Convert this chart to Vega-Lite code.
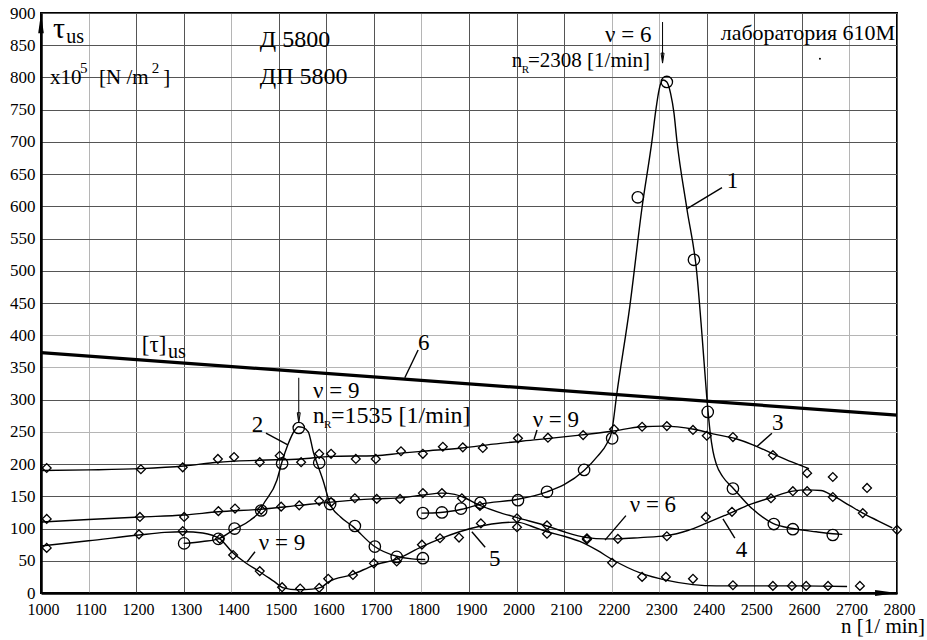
{
  "$schema": "https://vega.github.io/schema/vega-lite/v6.json",
  "width": 856,
  "height": 580,
  "autosize": "none",
  "padding": {"left": 41, "top": 13, "right": 30, "bottom": 47},
  "background": "white",
  "config": {
    "view": {"stroke": "black", "strokeWidth": 2},
    "font": "Liberation Serif",
    "text": {"font": "Liberation Serif", "color": "black", "align": "left", "baseline": "alphabetic"}
  },
  "datasets": {
    "lines": [
      {"curve": "1", "n": 1800, "tau": 124}, {"curve": "1", "n": 1840, "tau": 125}, {"curve": "1", "n": 1885, "tau": 130}, {"curve": "1", "n": 1925, "tau": 138},
      {"curve": "1", "n": 2000, "tau": 145}, {"curve": "1", "n": 2064, "tau": 157}, {"curve": "1", "n": 2100, "tau": 168}, {"curve": "1", "n": 2142, "tau": 190},
      {"curve": "1", "n": 2170, "tau": 212}, {"curve": "1", "n": 2190, "tau": 232}, {"curve": "1", "n": 2200, "tau": 250}, {"curve": "1", "n": 2211, "tau": 310},
      {"curve": "1", "n": 2238, "tau": 444}, {"curve": "1", "n": 2264, "tau": 599}, {"curve": "1", "n": 2285, "tau": 703}, {"curve": "1", "n": 2293, "tau": 750},
      {"curve": "1", "n": 2300, "tau": 782}, {"curve": "1", "n": 2308, "tau": 796}, {"curve": "1", "n": 2316, "tau": 793}, {"curve": "1", "n": 2324, "tau": 775},
      {"curve": "1", "n": 2331, "tau": 745}, {"curve": "1", "n": 2337, "tau": 703}, {"curve": "1", "n": 2358, "tau": 597}, {"curve": "1", "n": 2379, "tau": 497},
      {"curve": "1", "n": 2390, "tau": 400}, {"curve": "1", "n": 2400, "tau": 304}, {"curve": "1", "n": 2407, "tau": 250}, {"curve": "1", "n": 2413, "tau": 220},
      {"curve": "1", "n": 2420, "tau": 200}, {"curve": "1", "n": 2434, "tau": 180}, {"curve": "1", "n": 2455, "tau": 163}, {"curve": "1", "n": 2491, "tau": 134},
      {"curve": "1", "n": 2539, "tau": 108}, {"curve": "1", "n": 2581, "tau": 100}, {"curve": "1", "n": 2630, "tau": 95}, {"curve": "1", "n": 2665, "tau": 92},
      {"curve": "1", "n": 2685, "tau": 91},
      {"curve": "2", "n": 1300, "tau": 77}, {"curve": "2", "n": 1340, "tau": 80}, {"curve": "2", "n": 1373, "tau": 84}, {"curve": "2", "n": 1407, "tau": 99},
      {"curve": "2", "n": 1440, "tau": 113}, {"curve": "2", "n": 1460, "tau": 127}, {"curve": "2", "n": 1467, "tau": 137}, {"curve": "2", "n": 1496, "tau": 175},
      {"curve": "2", "n": 1507, "tau": 204}, {"curve": "2", "n": 1519, "tau": 230}, {"curve": "2", "n": 1534, "tau": 253}, {"curve": "2", "n": 1541, "tau": 258},
      {"curve": "2", "n": 1550, "tau": 257}, {"curve": "2", "n": 1562, "tau": 250}, {"curve": "2", "n": 1573, "tau": 218}, {"curve": "2", "n": 1583, "tau": 196},
      {"curve": "2", "n": 1593, "tau": 175}, {"curve": "2", "n": 1608, "tau": 138}, {"curve": "2", "n": 1630, "tau": 118}, {"curve": "2", "n": 1656, "tau": 103},
      {"curve": "2", "n": 1700, "tau": 73}, {"curve": "2", "n": 1748, "tau": 57}, {"curve": "2", "n": 1780, "tau": 53}, {"curve": "2", "n": 1808, "tau": 52},
      {"curve": "3", "n": 1000, "tau": 190}, {"curve": "3", "n": 1100, "tau": 191}, {"curve": "3", "n": 1210, "tau": 193}, {"curve": "3", "n": 1300, "tau": 197},
      {"curve": "3", "n": 1372, "tau": 203}, {"curve": "3", "n": 1460, "tau": 206}, {"curve": "3", "n": 1547, "tau": 208}, {"curve": "3", "n": 1610, "tau": 212},
      {"curve": "3", "n": 1704, "tau": 213}, {"curve": "3", "n": 1757, "tau": 217}, {"curve": "3", "n": 1803, "tau": 220}, {"curve": "3", "n": 1885, "tau": 225},
      {"curve": "3", "n": 1951, "tau": 231}, {"curve": "3", "n": 2043, "tau": 238}, {"curve": "3", "n": 2133, "tau": 245}, {"curve": "3", "n": 2200, "tau": 251},
      {"curve": "3", "n": 2264, "tau": 258}, {"curve": "3", "n": 2309, "tau": 259}, {"curve": "3", "n": 2373, "tau": 254}, {"curve": "3", "n": 2413, "tau": 247},
      {"curve": "3", "n": 2463, "tau": 239}, {"curve": "3", "n": 2497, "tau": 230}, {"curve": "3", "n": 2539, "tau": 216}, {"curve": "3", "n": 2580, "tau": 203},
      {"curve": "3", "n": 2615, "tau": 193},
      {"curve": "4", "n": 1000, "tau": 110}, {"curve": "4", "n": 1100, "tau": 114}, {"curve": "4", "n": 1208, "tau": 118}, {"curve": "4", "n": 1300, "tau": 121},
      {"curve": "4", "n": 1373, "tau": 126}, {"curve": "4", "n": 1463, "tau": 130}, {"curve": "4", "n": 1543, "tau": 136}, {"curve": "4", "n": 1610, "tau": 141},
      {"curve": "4", "n": 1700, "tau": 146}, {"curve": "4", "n": 1760, "tau": 148}, {"curve": "4", "n": 1803, "tau": 152}, {"curve": "4", "n": 1843, "tau": 155},
      {"curve": "4", "n": 1870, "tau": 153}, {"curve": "4", "n": 1887, "tau": 149}, {"curve": "4", "n": 1923, "tau": 136}, {"curve": "4", "n": 1960, "tau": 126},
      {"curve": "4", "n": 2001, "tau": 117}, {"curve": "4", "n": 2064, "tau": 104}, {"curve": "4", "n": 2100, "tau": 95}, {"curve": "4", "n": 2148, "tau": 86},
      {"curve": "4", "n": 2186, "tau": 84}, {"curve": "4", "n": 2213, "tau": 84}, {"curve": "4", "n": 2260, "tau": 86}, {"curve": "4", "n": 2316, "tau": 89},
      {"curve": "4", "n": 2360, "tau": 97}, {"curve": "4", "n": 2398, "tau": 108}, {"curve": "4", "n": 2440, "tau": 121}, {"curve": "4", "n": 2490, "tau": 137},
      {"curve": "4", "n": 2535, "tau": 148}, {"curve": "4", "n": 2581, "tau": 158}, {"curve": "4", "n": 2611, "tau": 160}, {"curve": "4", "n": 2640, "tau": 159},
      {"curve": "4", "n": 2665, "tau": 151}, {"curve": "4", "n": 2700, "tau": 136}, {"curve": "4", "n": 2728, "tau": 124}, {"curve": "4", "n": 2760, "tau": 112},
      {"curve": "4", "n": 2790, "tau": 101},
      {"curve": "5", "n": 1000, "tau": 73}, {"curve": "5", "n": 1100, "tau": 81}, {"curve": "5", "n": 1206, "tau": 90}, {"curve": "5", "n": 1260, "tau": 94},
      {"curve": "5", "n": 1300, "tau": 95}, {"curve": "5", "n": 1340, "tau": 93}, {"curve": "5", "n": 1376, "tau": 84}, {"curve": "5", "n": 1404, "tau": 62},
      {"curve": "5", "n": 1430, "tau": 47}, {"curve": "5", "n": 1460, "tau": 33}, {"curve": "5", "n": 1490, "tau": 18}, {"curve": "5", "n": 1510, "tau": 8},
      {"curve": "5", "n": 1540, "tau": 5}, {"curve": "5", "n": 1570, "tau": 6}, {"curve": "5", "n": 1590, "tau": 9}, {"curve": "5", "n": 1604, "tau": 17},
      {"curve": "5", "n": 1656, "tau": 29}, {"curve": "5", "n": 1700, "tau": 43}, {"curve": "5", "n": 1750, "tau": 53}, {"curve": "5", "n": 1801, "tau": 72},
      {"curve": "5", "n": 1839, "tau": 84}, {"curve": "5", "n": 1880, "tau": 95}, {"curve": "5", "n": 1925, "tau": 104}, {"curve": "5", "n": 1970, "tau": 109},
      {"curve": "5", "n": 2001, "tau": 110}, {"curve": "5", "n": 2030, "tau": 104}, {"curve": "5", "n": 2064, "tau": 95}, {"curve": "5", "n": 2100, "tau": 88},
      {"curve": "5", "n": 2133, "tau": 80}, {"curve": "5", "n": 2170, "tau": 66}, {"curve": "5", "n": 2201, "tau": 52}, {"curve": "5", "n": 2264, "tau": 30},
      {"curve": "5", "n": 2314, "tau": 20}, {"curve": "5", "n": 2371, "tau": 13}, {"curve": "5", "n": 2420, "tau": 11}, {"curve": "5", "n": 2455, "tau": 11},
      {"curve": "5", "n": 2539, "tau": 11}, {"curve": "5", "n": 2600, "tau": 11}, {"curve": "5", "n": 2695, "tau": 10}
    ],
    "circles": [
      {"n": 1301, "tau": 77}, {"n": 1373, "tau": 84}, {"n": 1407, "tau": 100}, {"n": 1463, "tau": 128}, {"n": 1507, "tau": 201}, {"n": 1542, "tau": 256},
      {"n": 1585, "tau": 202}, {"n": 1608, "tau": 138}, {"n": 1660, "tau": 104}, {"n": 1702, "tau": 72}, {"n": 1748, "tau": 56}, {"n": 1803, "tau": 54},
      {"n": 1803, "tau": 124}, {"n": 1843, "tau": 125}, {"n": 1883, "tau": 131}, {"n": 1924, "tau": 140}, {"n": 2003, "tau": 144}, {"n": 2064, "tau": 157},
      {"n": 2142, "tau": 191}, {"n": 2201, "tau": 240}, {"n": 2255, "tau": 614}, {"n": 2316, "tau": 793}, {"n": 2373, "tau": 517}, {"n": 2402, "tau": 281},
      {"n": 2455, "tau": 162}, {"n": 2541, "tau": 107}, {"n": 2581, "tau": 99}, {"n": 2665, "tau": 90}
    ],
    "diamonds": [
      {"n": 1012, "tau": 194}, {"n": 1210, "tau": 192}, {"n": 1298, "tau": 195}, {"n": 1372, "tau": 208}, {"n": 1406, "tau": 211}, {"n": 1460, "tau": 203},
      {"n": 1502, "tau": 213}, {"n": 1547, "tau": 203}, {"n": 1585, "tau": 216}, {"n": 1610, "tau": 216}, {"n": 1662, "tau": 208}, {"n": 1704, "tau": 208},
      {"n": 1757, "tau": 220}, {"n": 1803, "tau": 216}, {"n": 1845, "tau": 227}, {"n": 1887, "tau": 226}, {"n": 1929, "tau": 225}, {"n": 2003, "tau": 240},
      {"n": 2066, "tau": 241}, {"n": 2140, "tau": 245}, {"n": 2205, "tau": 254}, {"n": 2264, "tau": 258}, {"n": 2316, "tau": 259}, {"n": 2371, "tau": 253},
      {"n": 2400, "tau": 244}, {"n": 2455, "tau": 242}, {"n": 2539, "tau": 214}, {"n": 2611, "tau": 186}, {"n": 2665, "tau": 180}, {"n": 2737, "tau": 163},
      {"n": 1012, "tau": 115}, {"n": 1208, "tau": 118}, {"n": 1301, "tau": 118}, {"n": 1373, "tau": 127}, {"n": 1408, "tau": 131}, {"n": 1463, "tau": 129},
      {"n": 1505, "tau": 134}, {"n": 1543, "tau": 136}, {"n": 1585, "tau": 143}, {"n": 1610, "tau": 141}, {"n": 1660, "tau": 147}, {"n": 1706, "tau": 146},
      {"n": 1755, "tau": 146}, {"n": 1803, "tau": 155}, {"n": 1843, "tau": 155}, {"n": 1885, "tau": 147}, {"n": 1923, "tau": 135}, {"n": 2001, "tau": 116},
      {"n": 2064, "tau": 105}, {"n": 2148, "tau": 85}, {"n": 2213, "tau": 84}, {"n": 2316, "tau": 88}, {"n": 2398, "tau": 118}, {"n": 2453, "tau": 126},
      {"n": 2535, "tau": 147}, {"n": 2581, "tau": 158}, {"n": 2611, "tau": 158}, {"n": 2665, "tau": 149}, {"n": 2728, "tau": 124}, {"n": 2800, "tau": 98},
      {"n": 1012, "tau": 70}, {"n": 1206, "tau": 91}, {"n": 1298, "tau": 96}, {"n": 1376, "tau": 84}, {"n": 1404, "tau": 59}, {"n": 1460, "tau": 34},
      {"n": 1507, "tau": 9}, {"n": 1545, "tau": 7}, {"n": 1585, "tau": 8}, {"n": 1604, "tau": 22}, {"n": 1656, "tau": 28}, {"n": 1700, "tau": 46},
      {"n": 1748, "tau": 49}, {"n": 1801, "tau": 75}, {"n": 1839, "tau": 85}, {"n": 1879, "tau": 86}, {"n": 1925, "tau": 108}, {"n": 2001, "tau": 102},
      {"n": 2064, "tau": 92}, {"n": 2148, "tau": 83}, {"n": 2201, "tau": 47}, {"n": 2264, "tau": 25}, {"n": 2314, "tau": 25}, {"n": 2371, "tau": 22},
      {"n": 2455, "tau": 12}, {"n": 2539, "tau": 11}, {"n": 2579, "tau": 11}, {"n": 2609, "tau": 11}, {"n": 2655, "tau": 11}, {"n": 2722, "tau": 11}
    ],
    "limit": [{"n": 1000, "tau": 373}, {"n": 2800, "tau": 276}],
    "leaders": [
      {"n": 2432, "tau": 629, "n2": 2358, "tau2": 596},
      {"n": 1473, "tau": 248, "n2": 1519, "tau2": 230},
      {"n": 2537, "tau": 248, "n2": 2505, "tau2": 227},
      {"n": 2459, "tau": 85, "n2": 2434, "tau2": 115},
      {"n": 1934, "tau": 71, "n2": 1906, "tau2": 95},
      {"n": 1793, "tau": 377, "n2": 1765, "tau2": 334},
      {"n": 2043, "tau": 253, "n2": 2037, "tau2": 239},
      {"n": 2230, "tau": 120, "n2": 2186, "tau2": 82},
      {"n": 1450, "tau": 64, "n2": 1433, "tau2": 48}
    ],
    "arrows": [
      {"n": 2307, "tau": 886, "n2": 2307, "tau2": 826},
      {"n": 1542, "tau": 334, "n2": 1542, "tau2": 268}
    ],
    "heads": [{"n": 2307, "tau": 830}, {"n": 1542, "tau": 272}]
  },
  "encoding": {
    "x": {
      "field": "n", "type": "quantitative",
      "scale": {"domain": [1000, 2800], "nice": false, "zero": false},
      "axis": {
        "values": [1000, 1100, 1200, 1300, 1400, 1500, 1600, 1700, 1800, 1900, 2000, 2100, 2200, 2300, 2400, 2500, 2600, 2700, 2800],
        "title": null,
        "labelFont": "Liberation Serif", "labelFontSize": 16, "labelColor": "black", "labelPadding": 8, "labelOffset": 2,
        "labelFlush": false, "labelOverlap": false, "ticks": false, "tickSize": 0,
        "domainColor": "black", "domainWidth": 2.5,
        "gridColor": {"condition": {"test": "indexof([1100,1400,1800,2200,2300,2700], datum.value) >= 0", "value": "#b5b5b5"}, "value": "#555555"},
        "gridWidth": 1, "format": "d"
      }
    },
    "y": {
      "field": "tau", "type": "quantitative",
      "scale": {"domain": [0, 900], "nice": false, "zero": false},
      "axis": {
        "values": [0, 50, 100, 150, 200, 250, 300, 350, 400, 450, 500, 550, 600, 650, 700, 750, 800, 850, 900],
        "title": null,
        "labelFont": "Liberation Serif", "labelFontSize": 17, "labelColor": "black", "labelPadding": 6, "labelOffset": 0,
        "labelFlush": false, "labelOverlap": false, "ticks": false, "tickSize": 0,
        "domainColor": "black", "domainWidth": 2.5,
        "gridColor": {"condition": {"test": "indexof([250,350,400], datum.value) >= 0", "value": "#b5b5b5"}, "value": "#555555"},
        "gridWidth": 1, "format": "d"
      }
    }
  },
  "layer": [
    {
      "data": {"name": "limit"},
      "mark": {"type": "line", "color": "black", "strokeWidth": 3.2},
      "encoding": {}
    },
    {
      "data": {"name": "lines"},
      "mark": {"type": "line", "color": "black", "strokeWidth": 1.4, "interpolate": "monotone"},
      "encoding": {"detail": {"field": "curve"}}
    },
    {
      "data": {"name": "circles"},
      "mark": {"type": "point", "shape": "circle", "filled": false, "color": "black", "strokeWidth": 1.3, "size": 130, "opacity": 1},
      "encoding": {}
    },
    {
      "data": {"name": "diamonds"},
      "mark": {"type": "point", "shape": "diamond", "filled": false, "color": "black", "strokeWidth": 1.3, "size": 78, "opacity": 1},
      "encoding": {}
    },
    {
      "data": {"name": "leaders"},
      "mark": {"type": "rule", "color": "black", "strokeWidth": 1.4},
      "encoding": {"x2": {"field": "n2"}, "y2": {"field": "tau2"}}
    },
    {
      "data": {"name": "arrows"},
      "mark": {"type": "rule", "color": "black", "strokeWidth": 1},
      "encoding": {"x2": {"field": "n2"}, "y2": {"field": "tau2"}}
    },
    {
      "data": {"name": "heads"},
      "mark": {"type": "point", "shape": "M-0.3,-1L0.3,-1L0,1Z", "filled": false, "color": "black", "strokeWidth": 1, "size": 100, "opacity": 1},
      "encoding": {}
    },
    {
      "data": {"values": [{"n": 1000, "tau": 884}]},
      "mark": {"type": "point", "shape": "M0,-1L0.28,1L-0.28,1Z", "filled": true, "color": "black", "size": 400, "opacity": 1, "clip": false},
      "encoding": {}
    },
    {
      "data": {"values": [{"n": 2777, "tau": 0}]},
      "mark": {"type": "point", "shape": "M1,0L-1,-0.28L-1,0.28Z", "filled": true, "color": "black", "size": 484, "opacity": 1, "clip": false},
      "encoding": {}
    },
    {
      "data": {"values": [{"n": 2638, "tau": 829}]},
      "mark": {"type": "point", "shape": "circle", "filled": true, "color": "black", "size": 4, "opacity": 1},
      "encoding": {}
    },
    {
      "data": {"values": [
        {"n": 2186, "tau": 855, "label": "ν = 6"},
        {"n": 1572, "tau": 303, "label": "ν = 9"},
        {"n": 2034, "tau": 258, "label": "ν = 9"},
        {"n": 2238, "tau": 126, "label": "ν = 6"},
        {"n": 1458, "tau": 67, "label": "ν = 9"},
        {"n": 2442, "tau": 629, "label": "1"},
        {"n": 1443, "tau": 250, "label": "2"},
        {"n": 2537, "tau": 253, "label": "3"},
        {"n": 2461, "tau": 56, "label": "4"},
        {"n": 1942, "tau": 42, "label": "5"},
        {"n": 1793, "tau": 377, "label": "6"},
        {"n": 1572, "tau": 264, "label": "n"},
        {"n": 1212, "tau": 374, "label": "[τ]"}
      ]},
      "mark": {"type": "text", "fontSize": 23},
      "encoding": {"text": {"field": "label"}}
    },
    {
      "data": {"values": [
        {"n": 1460, "tau": 847, "label": "Д 5800"},
        {"n": 1460, "tau": 790, "label": "ДП 5800"},
        {"n": 1610, "tau": 264, "label": "=1535  [1/min]"}
      ]},
      "mark": {"type": "text", "fontSize": 24},
      "encoding": {"text": {"field": "label"}}
    },
    {
      "data": {"values": [{"n": 2859, "tau": -62, "label": "n [1/ min]"}]},
      "mark": {"type": "text", "fontSize": 21, "align": "right", "clip": false},
      "encoding": {"text": {"field": "label"}}
    },
    {
      "data": {"values": [
        {"n": 1990, "tau": 816, "label": "n"},
        {"n": 2024, "tau": 816, "label": "=2308  [1/min]"}
      ]},
      "mark": {"type": "text", "fontSize": 21},
      "encoding": {"text": {"field": "label"}}
    },
    {
      "data": {"values": [
        {"n": 2011, "tau": 807, "label": "R"},
        {"n": 1595, "tau": 256, "label": "R"}
      ]},
      "mark": {"type": "text", "fontSize": 11},
      "encoding": {"text": {"field": "label"}}
    },
    {
      "data": {"values": [
        {"n": 1019, "tau": 790, "label": "x10"},
        {"n": 1122, "tau": 790, "label": "[N /m"},
        {"n": 1257, "tau": 790, "label": "]"}
      ]},
      "mark": {"type": "text", "fontSize": 21},
      "encoding": {"text": {"field": "label"}}
    },
    {
      "data": {"values": [
        {"n": 1082, "tau": 807, "label": "5"},
        {"n": 1233, "tau": 807, "label": "2"}
      ]},
      "mark": {"type": "text", "fontSize": 15},
      "encoding": {"text": {"field": "label"}}
    },
    {
      "data": {"values": [{"n": 1025, "tau": 861, "label": "τ"}]},
      "mark": {"type": "text", "fontSize": 30},
      "encoding": {"text": {"field": "label"}}
    },
    {
      "data": {"values": [
        {"n": 1053, "tau": 853, "label": "us"},
        {"n": 1267, "tau": 365, "label": "us"}
      ]},
      "mark": {"type": "text", "fontSize": 20},
      "encoding": {"text": {"field": "label"}}
    },
    {
      "data": {"values": [{"n": 2796, "tau": 858, "label": "лаборатория  610M"}]},
      "mark": {"type": "text", "fontSize": 22, "align": "right"},
      "encoding": {"text": {"field": "label"}}
    }
  ]
}
